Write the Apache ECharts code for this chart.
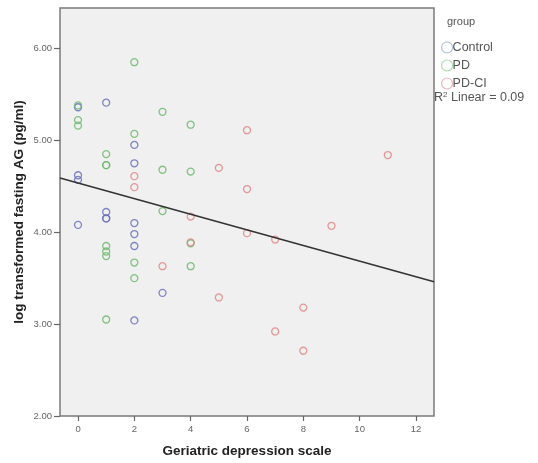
<!DOCTYPE html>
<html>
<head>
<meta charset="utf-8">
<script src="https://cdn.jsdelivr.net/npm/echarts@6/dist/echarts.min.js"></script>
<style>
  html, body { margin: 0; padding: 0; background: #ffffff; }
  #chart { width: 538px; height: 463px; }
</style>
</head>
<body>
<div id="chart"></div>
<script>
// Geriatric depression scale score vs log fasting AG, by group
const controlPoints = [
  [0, 5.36], [0, 4.62], [0, 4.57], [0, 4.08],
  [1, 5.41], [1, 4.22], [1, 4.15], [1, 4.15],
  [2, 4.95], [2, 4.75], [2, 4.10], [2, 3.98], [2, 3.85], [2, 3.04],
  [3, 3.34]
];
const pdPoints = [
  [0, 5.38], [0, 5.22], [0, 5.16],
  [1, 4.85], [1, 4.73], [1, 4.73], [1, 3.85], [1, 3.79], [1, 3.74], [1, 3.05],
  [2, 5.85], [2, 5.07], [2, 3.67], [2, 3.50],
  [3, 5.31], [3, 4.68], [3, 4.23],
  [4, 5.17], [4, 4.66], [4, 3.88], [4, 3.63]
];
const pdciPoints = [
  [2, 4.61], [2, 4.49],
  [3, 3.63],
  [4, 4.17], [4, 3.89],
  [5, 4.70], [5, 3.29],
  [6, 5.11], [6, 4.47], [6, 3.99],
  [7, 3.92], [7, 2.92],
  [8, 3.18], [8, 2.71],
  [9, 4.07],
  [11, 4.84]
];
const groupNames = ['Control', 'PD', 'PD-CI'];

// Fit line (total sample): intercept and slope
const fitIntercept = 4.536;
const fitSlope = -0.085;
const r2Text = '0.09';

const xRange = [-0.64, 12.64];
const yRange = [2, 6.44];
const xTicks = [0, 2, 4, 6, 8, 10, 12];
const yTicks = [2, 3, 4, 5, 6];

const fitLine = xRange.map(x => [x, fitIntercept + fitSlope * x]);

const markColors = ['#6b72bd', '#6fba6f', '#e48888'];
const legendColors = ['#9fb6dc', '#9fd39f', '#e9a9b4'];

const chart = echarts.init(document.getElementById('chart'), null, { renderer: 'canvas' });

const scatterSeries = [controlPoints, pdPoints, pdciPoints].map((pts, i) => ({
  name: groupNames[i],
  type: 'scatter',
  data: pts,
  symbol: 'circle',
  symbolSize: 7,
  itemStyle: {
    color: 'transparent',
    borderColor: markColors[i],
    borderWidth: 1.3,
    opacity: 0.85
  },
  emphasis: { disabled: true },
  z: 3
}));

chart.setOption({
  animation: false,
  backgroundColor: '#ffffff',
  grid: {
    left: 60, top: 8, right: 104, bottom: 47,
    outerBoundsMode: 'none',
    containLabel: false,
    show: true,
    backgroundColor: '#f0f0f0',
    borderColor: '#7a7a7a',
    borderWidth: 1.5
  },
  xAxis: {
    type: 'value',
    min: xRange[0], max: xRange[1],
    name: 'Geriatric depression scale',
    nameLocation: 'middle',
    nameGap: 28,
    nameMoveOverlap: false,
    nameTextStyle: { fontFamily: 'Liberation Sans', fontWeight: 'bold', fontSize: 13.5, color: '#222' },
    axisLine: { show: false, onZero: false },
    splitLine: { show: false },
    axisTick: { show: true, customValues: xTicks, length: 5, lineStyle: { color: '#666', width: 1.2 } },
    axisLabel: {
      customValues: xTicks,
      margin: 8,
      fontFamily: 'Liberation Sans', fontSize: 9.5, color: '#666'
    }
  },
  yAxis: {
    type: 'value',
    min: yRange[0], max: yRange[1],
    name: 'log transformed fasting AG (pg/ml)',
    nameLocation: 'middle',
    nameGap: 34,
    nameMoveOverlap: false,
    nameRotate: 90,
    nameTextStyle: { fontFamily: 'Liberation Sans', fontWeight: 'bold', fontSize: 13.5, color: '#222' },
    axisLine: { show: false, onZero: false },
    splitLine: { show: false },
    axisTick: { show: true, customValues: yTicks, length: 6, lineStyle: { color: '#666', width: 1.2 } },
    axisLabel: {
      customValues: yTicks,
      margin: 8,
      formatter: v => v.toFixed(2),
      fontFamily: 'Liberation Sans', fontSize: 9.5, color: '#666'
    }
  },
  legend: {
    orient: 'vertical',
    left: 436, top: 36,
    itemWidth: 11, itemHeight: 11, itemGap: 5,
    icon: 'circle',
    selectedMode: false,
    textStyle: { fontFamily: 'Liberation Sans', fontSize: 12.5, color: '#555', padding: [0, 0, 0, -5] },
    data: groupNames.map((n, i) => ({
      name: n,
      itemStyle: { color: 'transparent', borderColor: legendColors[i], borderWidth: 1.2 }
    }))
  },
  graphic: [
    {
      type: 'text', left: 447, top: 16,
      style: { text: 'group', fontFamily: 'Liberation Sans', fontSize: 11, fill: '#555' }
    },
    {
      type: 'text', left: 434, top: 91,
      style: {
        text: 'R{sup|2} Linear = ' + r2Text,
        fontFamily: 'Liberation Sans', fontSize: 12.5, fill: '#555',
        rich: { sup: { fontSize: 8, verticalAlign: 'top', padding: [0, 0, 6, 0], fill: '#555' } }
      }
    }
  ],
  series: [
    ...scatterSeries,
    {
      name: 'fit',
      type: 'line',
      data: fitLine,
      symbol: 'none',
      lineStyle: { color: '#333', width: 1.6 },
      emphasis: { disabled: true },
      z: 4
    }
  ]
});
</script>
</body>
</html>
